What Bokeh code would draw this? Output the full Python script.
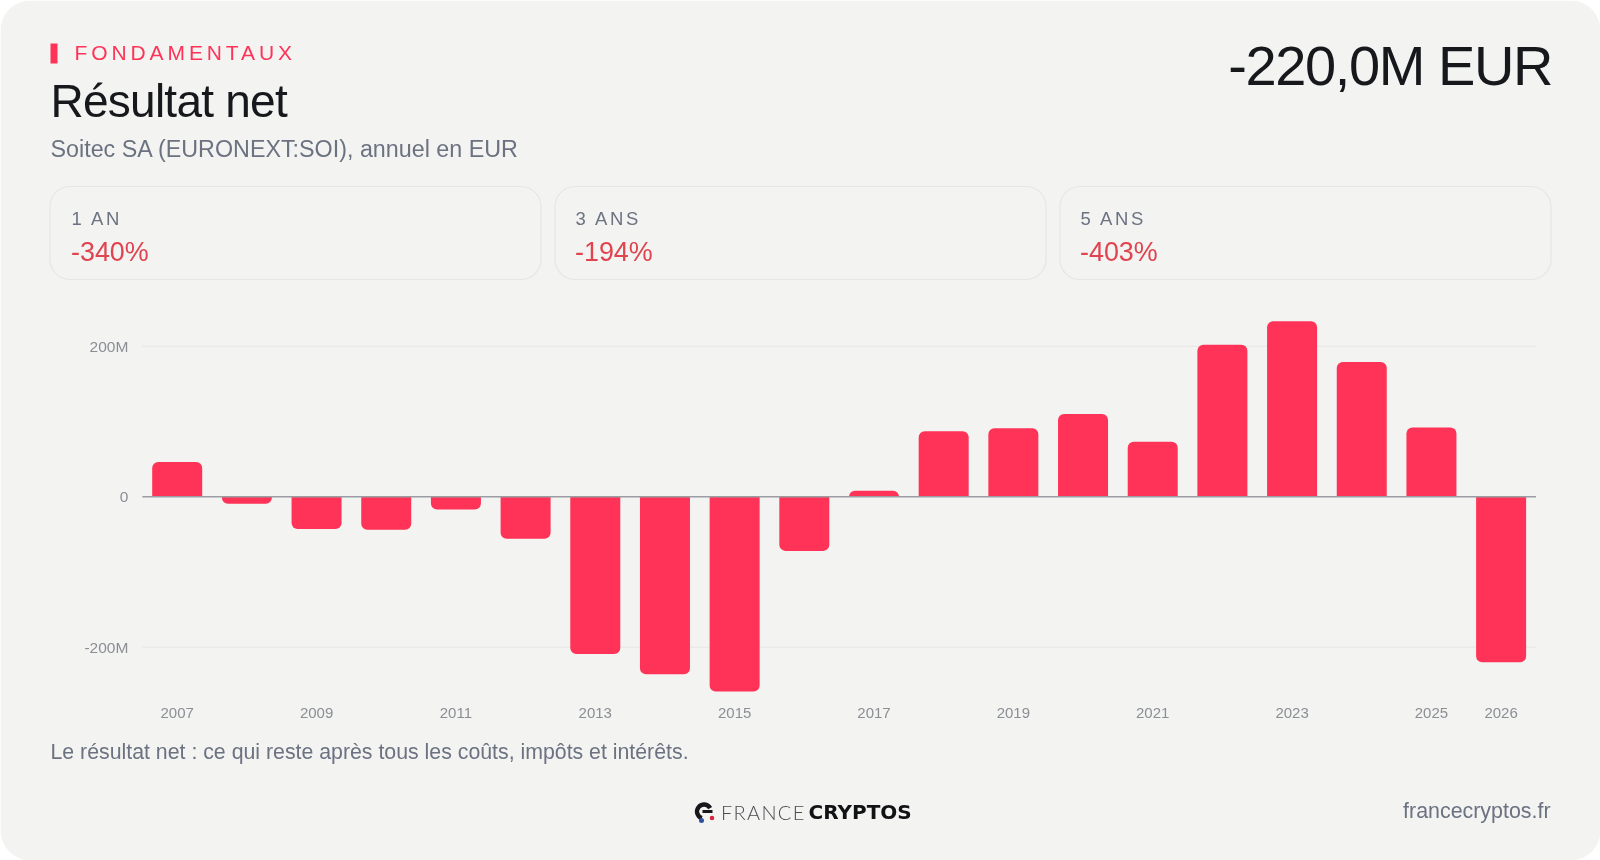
from bokeh.embed import file_html
from bokeh.resources import INLINE
from bokeh.layouts import column
from bokeh.models import (ColumnDataSource, FixedTicker, Label, LinearAxis,
                          Range1d)
from bokeh.plotting import figure

# ---------- data ----------
years = [2007, 2008, 2009, 2010, 2011, 2012, 2013, 2014, 2015, 2016,
         2017, 2018, 2019, 2020, 2021, 2022, 2023, 2024, 2025, 2026]
net_income_meur = [46, -9.5, -43, -44, -17, -56, -209, -236, -259, -72,
                   8, 87, 91, 110, 73, 202, 233, 179, 92, -220]
x_tick_years = [2007, 2009, 2011, 2013, 2015, 2017, 2019, 2021, 2023, 2025, 2026]
y_ticks = [-200, 0, 200]
y_tick_labels = {-200: "-200M", 0: "0", 200: "200M"}
period_labels = ["1 AN", "3 ANS", "5 ANS"]
period_changes = ["-340%", "-194%", "-403%"]

# ---------- style ----------
W, H = 1600, 860
SANS = "Liberation Sans"
RED = "#ff3357"
INK = "#16181c"
GREY = "#6b7280"
TICK = "#8b8e94"
CARD = "#f3f3f2"
LOSS = "#e0444f"
FIXED = {"position": "fixed", "left": "0px", "top": "0px"}

# scale: 69.68 px per year with 2007 near x=177; 0.7525 px per MEUR with 0 near y=496
PX_YEAR = 69.68
PX_MEUR = 0.7525
X_2007 = 176.7
Y_ZERO = 496.2
x0 = 2007 + (0 - X_2007) / PX_YEAR
x1 = 2007 + (W - X_2007) / PX_YEAR
y0 = (Y_ZERO - H) / PX_MEUR
y1 = Y_ZERO / PX_MEUR

p = figure(width=W, height=H, output_backend="svg", toolbar_location=None,
           x_range=Range1d(x0, x1), y_range=Range1d(y0, y1),
           x_axis_location=None, y_axis_location=None,
           min_border=0, outline_line_color=None,
           background_fill_color="#ffffff", border_fill_color="#ffffff",
           styles=FIXED)
p.grid.visible = False
p.extra_x_ranges["px"] = Range1d(0, W)
p.extra_y_ranges["px"] = Range1d(H, 0)

# card background
p.quad(left=[0], right=[W], top=[0], bottom=[H], x_range_name="px", y_range_name="px",
       fill_color=CARD, line_color=None, border_radius=30)

# stat cards
for l, r in [(49.5, 540.5), (554.5, 1045.5), (1059.5, 1550.5)]:
    p.quad(left=[l], right=[r], top=[186], bottom=[279], x_range_name="px", y_range_name="px",
           fill_color=CARD, line_color="#e6e6e6", line_width=1.2, border_radius=20)

# eyebrow marker
p.quad(left=[50], right=[57], top=[43], bottom=[63], x_range_name="px", y_range_name="px",
       fill_color=RED, line_color=None)

# grid lines
x_lo, x_hi = years[0] - 0.5, years[-1] + 0.5
grid_y = [t for t in y_ticks if t != 0]
p.segment(x0=[x_lo] * len(grid_y), x1=[x_hi] * len(grid_y), y0=grid_y, y1=grid_y,
          line_color="#e6e6e6", line_width=1)

# bars
pos = ColumnDataSource(dict(x=[y for y, v in zip(years, net_income_meur) if v >= 0],
                            top=[v for v in net_income_meur if v >= 0]))
neg = ColumnDataSource(dict(x=[y for y, v in zip(years, net_income_meur) if v < 0],
                            top=[v for v in net_income_meur if v < 0]))
p.vbar(x="x", top="top", bottom=0, width=0.7176, source=pos, fill_color=RED,
       line_color=None, border_radius=(6, 6, 0, 0))
p.vbar(x="x", top="top", bottom=0, width=0.7176, source=neg, fill_color=RED,
       line_color=None, border_radius=(0, 0, 6, 6))

# zero line
p.segment(x0=[x_lo], x1=[x_hi], y0=[0], y1=[0], line_color="#9b9da3", line_width=1.5)

# axes
xa = LinearAxis(ticker=FixedTicker(ticks=x_tick_years), fixed_location=(Y_ZERO - 698) / PX_MEUR,
                major_label_overrides={y: str(y) for y in x_tick_years},
                axis_line_color=None, major_tick_line_color=None, minor_tick_line_color=None,
                major_label_text_font=SANS, major_label_text_font_size="15px",
                major_label_text_color=TICK, major_label_standoff=3)
ya = LinearAxis(ticker=FixedTicker(ticks=y_ticks), fixed_location=x_lo,
                major_label_overrides=y_tick_labels,
                axis_line_color=None, major_tick_line_color=None, minor_tick_line_color=None,
                major_label_text_font=SANS, major_label_text_font_size="15.5px",
                major_label_text_color=TICK, major_label_standoff=8)
p.add_layout(xa, "below")
p.add_layout(ya, "left")


def txt(fig, text, x, y, size, color, align="left", font=SANS, style="normal"):
    kw = dict(x_range_name="px", y_range_name="px") if fig is p else {}
    fig.add_layout(Label(x=x, y=y, text=text, text_font=font, text_font_size=f"{size}px",
                         text_color=color, text_align=align, text_baseline="alphabetic",
                         text_font_style=style, **kw))


txt(p, "Soitec SA (EURONEXT:SOI), annuel en EUR", 50, 148, 23.3, GREY)
txt(p, "Le résultat net : ce qui reste après tous les coûts, impôts et intérêts.", 50, 751, 21.3, GREY)
txt(p, "francecryptos.fr", 1550, 810, 21.4, GREY, align="right")
for xl, c in zip([70.5, 574.5, 1079.5], period_changes):
    txt(p, c, xl, 251, 26.9, LOSS)

# logo
p.annular_wedge(x=[703.5], y=[811], inner_radius=4.8, outer_radius=9.2, start_angle=0.5, end_angle=4.4,
                x_range_name="px", y_range_name="px",
                inner_radius_units="screen", outer_radius_units="screen",
                fill_color="#15171a", line_color=None)
p.quad(left=[702], right=[712], top=[809.5], bottom=[812.5], x_range_name="px", y_range_name="px",
       fill_color="#15171a", line_color=None)
p.scatter(x=[701], y=[820], size=5, marker="circle", x_range_name="px", y_range_name="px",
          fill_color="#2f4f9f", line_color=None)
p.scatter(x=[711.5], y=[817.5], size=4.5, marker="circle", x_range_name="px", y_range_name="px",
          fill_color="#d8243f", line_color=None)
txt(p, "CRYPTOS", 808, 811, 20, "#111214", font="DejaVu Sans", style="bold")


def layer(spacing):
    """Transparent overlay figure whose texts inherit a CSS letter-spacing."""
    return figure(width=W, height=H, output_backend="svg", toolbar_location=None,
                  x_range=Range1d(0, W), y_range=Range1d(H, 0),
                  x_axis_location=None, y_axis_location=None, min_border=0,
                  outline_line_color=None, background_fill_alpha=0, border_fill_alpha=0,
                  styles={**FIXED, "letter-spacing": spacing, "pointer-events": "none"})


eyebrow = layer("3.9px")
txt(eyebrow, "FONDAMENTAUX", 74, 52, 21, RED)
title = layer("-0.75px")
txt(title, "Résultat net", 50, 100, 46, INK)
labels = layer("2.6px")
for xl, t in zip([71, 575, 1080], period_labels):
    txt(labels, t, xl, 218, 18.5, GREY)
big = layer("-1.4px")
txt(big, "-220,0M EUR", 1567, 65, 56, INK, align="right")
logo = layer("1.3px")
txt(logo, "FRANCE", 720.5, 811, 20, "#4a4c50", font="Lato Light, Lato, Liberation Sans")

overlays = (eyebrow, title, labels, big, logo)
for f in overlays:
    f.grid.visible = False

root = column(p, *overlays)
open("out.html", "w").write(file_html(root, INLINE))
